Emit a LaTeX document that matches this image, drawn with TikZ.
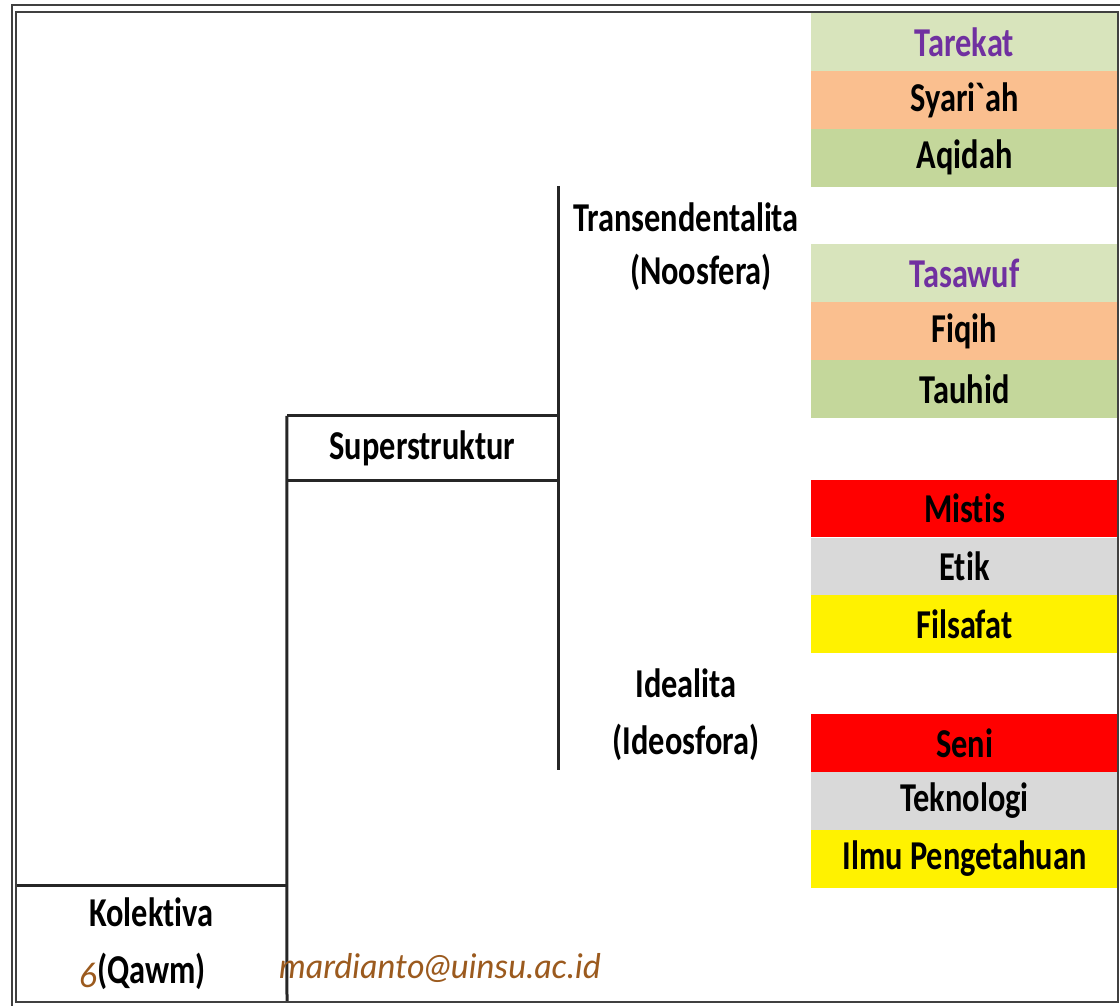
\documentclass[tikz,border=0pt]{standalone}
\usepackage{fontspec}
\setmainfont{Carlito}
\newfontfamily\cellfont{Carlito}[FakeStretch=0.79, Ligatures=NoCommon]
\newfontfamily\mailfont{Lato}
\definecolor{rowgreen}{HTML}{D8E4BC}
\definecolor{rowolive}{HTML}{C4D79B}
\definecolor{roworange}{HTML}{FABF8F}
\definecolor{rowgray}{HTML}{D9D9D9}
\definecolor{textpurple}{HTML}{7030A0}
\definecolor{mailbrown}{RGB}{155,90,30}
\usetikzlibrary{positioning}
\tikzset{
  cell/.style={fill=#1, minimum width=307pt, minimum height=57.5pt, inner sep=0pt,
    font=\cellfont\bfseries\fontsize{41}{57}\selectfont},
  caption/.style={inner sep=0pt, align=center, font=\cellfont\bfseries\fontsize{41}{57}\selectfont},
  rule/.style={draw=black!85, line width=3pt},
  frame/.style={draw=black!75, line width=2pt}
}

\begin{document}
\begin{tikzpicture}[x=1pt,y=-1pt]
  \useasboundingbox (0,0) rectangle (1120,1006);

  % right column: Noosfera
  \node[cell=rowgreen, text=textpurple] (tarekat) at (964.5,42) {Tarekat};
  \node[cell=roworange, below=0pt of tarekat] (syariah) {Syari`ah};
  \node[cell=rowolive, below=0pt of syariah] (aqidah) {Aqidah};

  \node[cell=rowgreen, text=textpurple, below=57.5pt of aqidah] (tasawuf) {Tasawuf};
  \node[cell=roworange, below=0pt of tasawuf] (fiqih) {Fiqih};
  \node[cell=rowolive, below=0pt of fiqih] (tauhid) {Tauhid};

  % right column: Ideosfora
  \node[cell=red, below=61.5pt of tauhid] (mistis) {Mistis};
  \node[cell=rowgray, below=0pt of mistis] (etik) {Etik};
  \node[cell=yellow, below=0pt of etik] (filsafat) {Filsafat};

  \node[cell=red, below=61pt of filsafat] (seni) {Seni};
  \node[cell=rowgray, below=0pt of seni] (teknologi) {Teknologi};
  \node[cell=yellow, below=0pt of teknologi] (ilmu) {Ilmu Pengetahuan};

  % middle labels
  \node[caption] (trans) at (686,217) {Transendentalita};
  \node[caption] (noos) at (701,272) {(Noosfera)};
  \node[caption] (ideal) at (686,715) {Idealita\\(Ideosfora)};

  \coordinate (branchtop) at (558,186);
  \coordinate (branchbot) at (558,770);
  \draw[rule] (branchtop) -- (branchbot);

  % superstruktur
  \node[caption, minimum width=271pt, minimum height=64pt] (super) at (422.5,448) {Superstruktur};
  \coordinate (base) at (287,1002);
  \draw[rule] (super.north west) -- (super.north east);
  \draw[rule] (super.south west) -- (super.south east);
  \draw[rule] (super.north west) -- (base);

  % kolektiva
  \node[caption, minimum width=271pt, minimum height=116pt] (kolektiva) at (151.5,944) {Kolektiva\\(Qawm)};
  \draw[rule] (kolektiva.north west) -- (kolektiva.north east);

  \node[text=mailbrown, font=\mailfont\itshape\fontsize{34}{40}\selectfont] (slide) at (88,975) {6};
  \node[text=mailbrown, font=\mailfont\itshape\fontsize{34}{40}\selectfont] (mail) at (440,968) {mardianto@uinsu.ac.id};

  % frame
  \draw[frame] (12,1006) -- (12,5) -- (1120,5);
  \draw[frame] (16,12) rectangle (1118,1002);
\end{tikzpicture}
\end{document}
